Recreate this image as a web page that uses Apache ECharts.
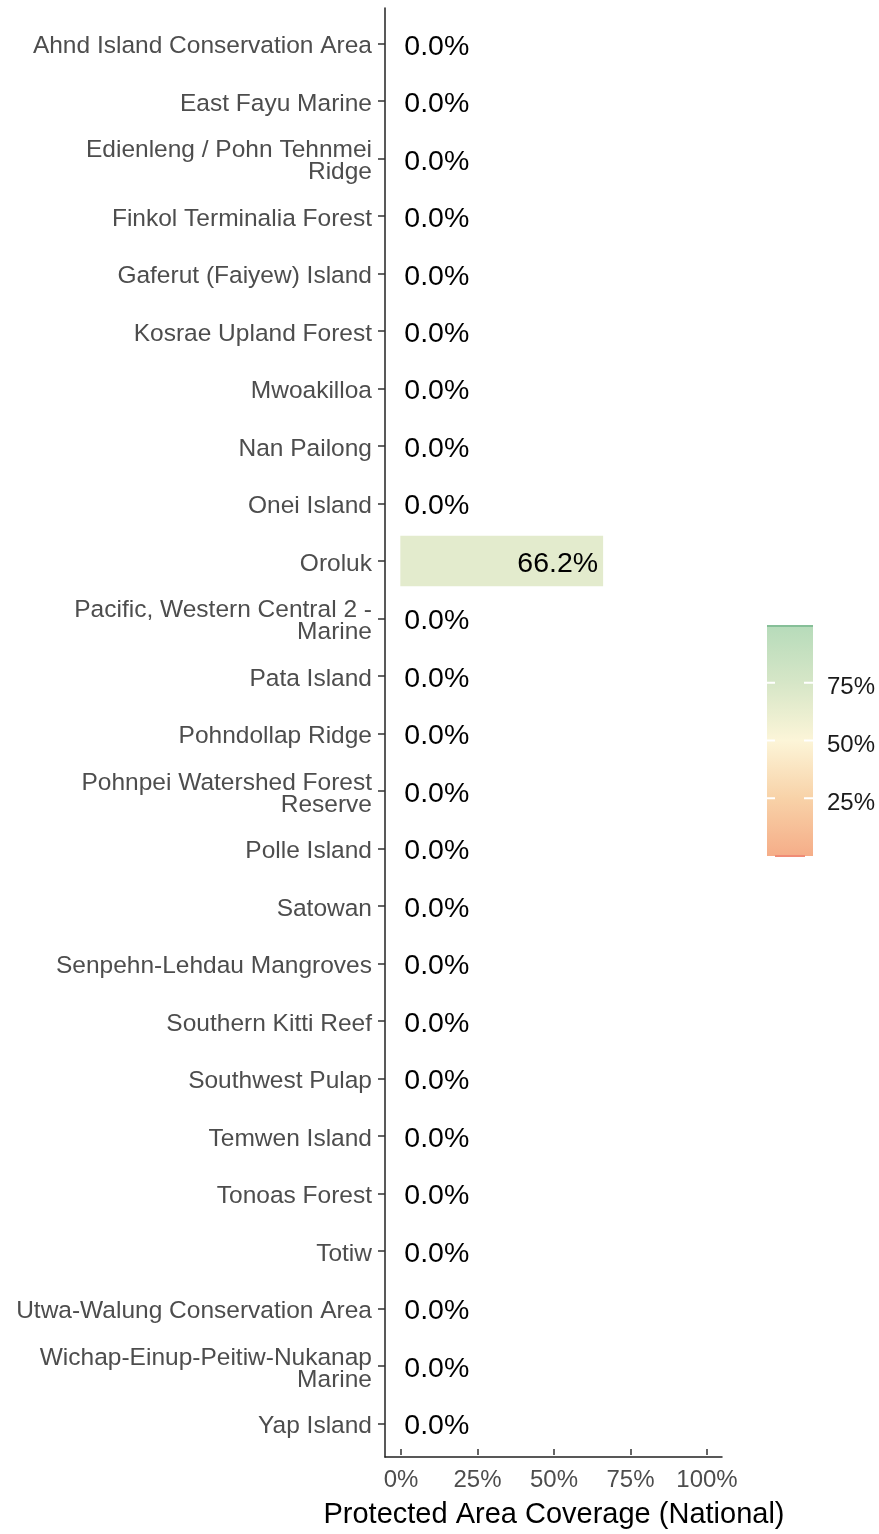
<!DOCTYPE html>
<html>
<head>
<meta charset="utf-8">
<script src="https://cdn.jsdelivr.net/npm/echarts@6/dist/echarts.min.js"></script>
<style>
  html, body { margin: 0; padding: 0; background: #fff; }
  #main { width: 879px; height: 1534px; }
</style>
</head>
<body>
<div id="main"></div>
<script>
// protected areas, top to bottom
var areas = [
  'Ahnd Island Conservation Area',
  'East Fayu Marine',
  'Edienleng / Pohn Tehnmei\nRidge',
  'Finkol Terminalia Forest',
  'Gaferut (Faiyew) Island',
  'Kosrae Upland Forest',
  'Mwoakilloa',
  'Nan Pailong',
  'Onei Island',
  'Oroluk',
  'Pacific, Western Central 2 -\nMarine',
  'Pata Island',
  'Pohndollap Ridge',
  'Pohnpei Watershed Forest\nReserve',
  'Polle Island',
  'Satowan',
  'Senpehn-Lehdau Mangroves',
  'Southern Kitti Reef',
  'Southwest Pulap',
  'Temwen Island',
  'Tonoas Forest',
  'Totiw',
  'Utwa-Walung Conservation Area',
  'Wichap-Einup-Peitiw-Nukanap\nMarine',
  'Yap Island'
];

// coverage in %
var coverage = [0, 0, 0, 0, 0, 0, 0, 0, 0, 66.2, 0, 0, 0, 0, 0, 0, 0, 0, 0, 0, 0, 0, 0, 0, 0];

var xTicks = [0, 25, 50, 75, 100];
var legendTicks = [25, 50, 75];

// colour scale, low -> high
var palette = ['#F5AD88', '#F8D2A8', '#FCF5D8', '#D6E6C7', '#B6DBBA'];

var font = "'Liberation Sans', Arial, sans-serif";

var myChart = echarts.init(document.getElementById('main'));

var barData = coverage.map(function (v) {
  return {
    value: v,
    label: v > 0
      ? { position: 'insideRight', distance: 5 }
      : { position: 'right', distance: 4 }
  };
});

// legend colour bar
var lgTop = 625, lgBottom = 856, lgLeft = 767, lgRight = 813;
var lgGraphics = [
  {
    type: 'rect',
    shape: { x: lgLeft, y: lgTop, width: lgRight - lgLeft, height: lgBottom - lgTop },
    style: {
      fill: new echarts.graphic.LinearGradient(0, 1, 0, 0, palette.map(function (c, i) {
        return { offset: i / (palette.length - 1), color: c };
      }).concat([{ offset: 1, color: '#8CC49E' }]))
    }
  },
  {
    type: 'rect',
    shape: { x: lgLeft, y: lgTop, width: lgRight - lgLeft, height: 2 },
    style: { fill: '#86BF98' }
  },
  {
    type: 'rect',
    shape: { x: lgLeft + 8, y: lgBottom - 1, width: lgRight - lgLeft - 16, height: 2 },
    style: { fill: '#F08C76' }
  }
];
legendTicks.forEach(function (t) {
  var y = lgBottom - (lgBottom - lgTop) * t / 100;
  lgGraphics.push({
    type: 'line',
    shape: { x1: lgLeft, y1: y, x2: lgLeft + 8, y2: y },
    style: { stroke: '#fff', lineWidth: 2 }
  });
  lgGraphics.push({
    type: 'line',
    shape: { x1: lgRight - 9, y1: y, x2: lgRight, y2: y },
    style: { stroke: '#fff', lineWidth: 2 }
  });
  lgGraphics.push({
    type: 'text',
    x: 827, y: y + 5,
    style: {
      text: t + '%', fill: '#1a1a1a', font: '24px ' + font,
      textVerticalAlign: 'middle', verticalAlign: 'middle'
    }
  });
});

var hiddenAxis = {
  axisLine: { show: false, onZero: false }, axisTick: { show: false },
  axisLabel: { show: false }, splitLine: { show: false }
};

var option = {
  animation: false,
  textStyle: { fontFamily: font },
  grid: [
    // data grid
    { left: 385, width: 337, top: 15, height: 1437 },
    // tick grid for x axis (0..100)
    { left: 401, width: 306, top: 8, height: 1449 },
    // frame lines
    { left: 385, width: 337, top: 8, height: 1449 },
    // category text, nudged down like the reference
    { left: 385, width: 337, top: 18, height: 1437 }
  ],
  visualMap: {
    show: false,
    type: 'continuous',
    min: 0,
    max: 100,
    dimension: 0,
    seriesIndex: 0,
    inRange: { color: palette }
  },
  xAxis: [
    Object.assign({ gridIndex: 0, type: 'value', min: -5, max: 105 }, hiddenAxis),
    {
      gridIndex: 1, type: 'value', min: 0, max: 100, interval: 25,
      axisLine: { show: false, onZero: false },
      axisTick: { show: true, length: 6, lineStyle: { color: '#333', width: 1.5 } },
      axisLabel: {
        margin: 19, color: '#4D4D4D', fontSize: 24, fontFamily: font,
        formatter: function (v) { return xTicks.indexOf(v) >= 0 ? v + '%' : ''; }
      },
      splitLine: { show: false },
      name: 'Protected Area Coverage (National)',
      nameLocation: 'middle',
      nameGap: 51,
      nameTextStyle: { color: '#000', fontSize: 29, fontFamily: font }
    },
    {
      gridIndex: 2, type: 'value', min: 0, max: 1,
      axisLine: { show: true, onZero: false, lineStyle: { color: '#222', width: 1.5 } },
      axisTick: { show: false }, axisLabel: { show: false }, splitLine: { show: false }
    },
    Object.assign({ gridIndex: 3, type: 'value', min: 0, max: 1 }, hiddenAxis)
  ],
  yAxis: [
    {
      gridIndex: 0, type: 'category', data: areas, inverse: true,
      axisLine: { show: false, onZero: false },
      axisTick: { show: true, alignWithLabel: true, length: 7, lineStyle: { color: '#333', width: 1.5 } },
      axisLabel: { show: false }
    },
    Object.assign({ gridIndex: 1, type: 'value', min: 0, max: 1 }, hiddenAxis),
    {
      gridIndex: 2, type: 'value', min: 0, max: 1,
      axisLine: { show: true, onZero: false, lineStyle: { color: '#222', width: 1.5 } },
      axisTick: { show: false }, axisLabel: { show: false }, splitLine: { show: false }
    },
    {
      gridIndex: 3, type: 'category', data: areas, inverse: true,
      axisLine: { show: false, onZero: false },
      axisTick: { show: false },
      axisLabel: {
        margin: 13, color: '#4D4D4D', fontSize: 24.5, lineHeight: 22,
        fontFamily: font, interval: 0, align: 'right'
      }
    }
  ],
  series: [
    {
      type: 'bar',
      xAxisIndex: 0,
      yAxisIndex: 0,
      data: barData,
      barWidth: '88%',
      label: {
        show: true,
        color: '#000',
        fontSize: 28.5,
        fontFamily: font,
        offset: [0, 3],
        formatter: function (p) { return p.value.toFixed(1) + '%'; }
      }
    }
  ],
  graphic: lgGraphics
};

myChart.setOption(option);
</script>
</body>
</html>
